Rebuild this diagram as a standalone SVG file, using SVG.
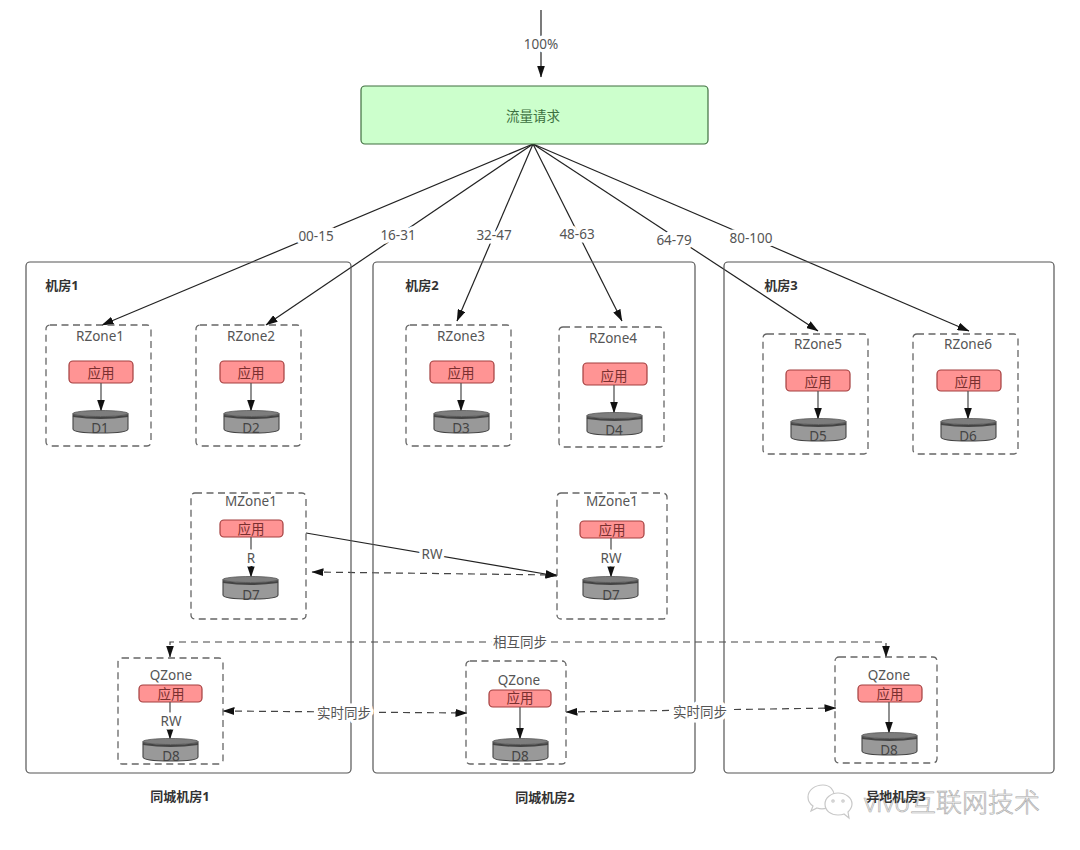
<svg xmlns="http://www.w3.org/2000/svg" xmlns:xlink="http://www.w3.org/1999/xlink" width="1080" height="850" viewBox="0 0 1080 850">
<style>
text{font-family:"Noto Sans","Noto Sans CJK SC",sans-serif;font-size:13.500px;fill:#555;text-anchor:middle}
.lbl{paint-order:stroke;stroke:#fff;stroke-width:7px;stroke-linejoin:round;fill:#555}
.room{fill:none;stroke:#555;stroke-width:1.2}
.rt{font-weight:bold;font-size:13px;fill:#333}
.zone{fill:none;stroke:#666;stroke-width:1.3;stroke-dasharray:7 4.500}
.app{fill:#ff9494;stroke:#a33f3f;stroke-width:1.2}
.apt{fill:#7a3030}
.db{fill:#999;stroke:#444;stroke-width:1.100}
.dbt{fill:#7d7d7d;stroke:#555;stroke-width:.8}
.dbb{fill:none;stroke:#444;stroke-width:2}
.con{fill:none;stroke:#222;stroke-width:1.200}
.dash{fill:none;stroke:#444;stroke-width:1.200;stroke-dasharray:7 5}
.in{fill:none;stroke:#555;stroke-width:1.300}
.dbl{fill:#444}
.wm{fill:#fff;stroke:#c8c8c8;stroke-width:1.200}
.wmt{font-size:26px;font-weight:300;fill:#f4f4f4;stroke:#a8a8a8;stroke-width:.6px}
</style>
<defs>
<marker id="a" viewBox="0 0 12 8" refX="11.500" refY="4" markerWidth="12" markerHeight="8" markerUnits="userSpaceOnUse" orient="auto-start-reverse"><path d="M0 0L12 4L0 8Z" fill="#111"/></marker>
<g id="db"><path class="db" d="M0 4V19Q0 23 27.500 23T55 19V4Z"/><ellipse class="dbt" cx="27.500" cy="3.500" rx="27.500" ry="3"/><path class="dbb" d="M0 6Q27.500 10 55 6"/></g>
</defs>
<g id="watermark">
<path class="wm" d="M823 785C815 785 808 790 808 797C808 801 810 804 813 806L811 811L817 808C820 809 824 809 827 808C837 806 838 785 823 785Z"/>
<path class="wm" d="M838 793C831 793 825 798 825 804C825 811 831 815 838 815C840 815 842 815 844 814L849 818L848 812C850 810 852 807 852 804C852 798 846 793 838 793Z"/>
<circle class="wm" cx="833" cy="801" r="1.200"/><circle class="wm" cx="843" cy="801" r="1.200"/>
<text class="wmt" x="952" y="812">vivo互联网技术</text>
</g>
<g id="connectors">
<path class="con" d="M541 10V77" marker-end="url(#a)"/>
<path class="con" d="M533 144L102 325" marker-end="url(#a)"/>
<path class="con" d="M533 144L266 325" marker-end="url(#a)"/>
<path class="con" d="M533 144L457 321" marker-end="url(#a)"/>
<path class="con" d="M533 144L622 321" marker-end="url(#a)"/>
<path class="con" d="M533 144L818 331" marker-end="url(#a)"/>
<path class="con" d="M533 144L969 331" marker-end="url(#a)"/>
<path class="con" d="M306 533L557 576" marker-end="url(#a)"/>
<path class="dash" d="M312 572L557 575" marker-start="url(#a)" marker-end="url(#a)"/>
<path class="dash" d="M170 657V642H886V657" marker-start="url(#a)" marker-end="url(#a)"/>
<path class="dash" d="M223 711L467 713" marker-start="url(#a)" marker-end="url(#a)"/>
<path class="dash" d="M566 712L836 708" marker-start="url(#a)" marker-end="url(#a)"/>
</g>
<g id="room1"><rect class="room" x="26" y="262" width="325" height="511" rx="4"/><text class="rt" x="62" y="290">机房1</text></g>
<g id="room2"><rect class="room" x="373" y="262" width="322" height="511" rx="4"/><text class="rt" x="422" y="290">机房2</text></g>
<g id="room3"><rect class="room" x="724" y="262" width="330" height="511" rx="4"/><text class="rt" x="781" y="290">机房3</text></g>
<g id="traffic"><rect x="361" y="86" width="347" height="58" rx="4" fill="#ccffcc" stroke="#3f6f3f" stroke-width="1.2"/><text x="533" y="121" style="fill:#3c7040">流量请求</text></g>
<g id="rzone1"><rect class="zone" x="46" y="325" width="105" height="121" rx="4"/><text x="100" y="341">RZone1</text><rect class="app" x="69" y="361" width="64" height="22" rx="4"/><text class="apt" x="101" y="378">应用</text><path class="in" d="M101 383V411" marker-end="url(#a)"/><use xlink:href="#db" x="73" y="410"/><text class="dbl" x="100" y="433">D1</text></g>
<g id="rzone2"><rect class="zone" x="196" y="325" width="105" height="121" rx="4"/><text x="251" y="341">RZone2</text><rect class="app" x="220" y="361" width="64" height="22" rx="4"/><text class="apt" x="251" y="378">应用</text><path class="in" d="M251 383V411" marker-end="url(#a)"/><use xlink:href="#db" x="224" y="410"/><text class="dbl" x="251" y="433">D2</text></g>
<g id="rzone3"><rect class="zone" x="406" y="325" width="105" height="121" rx="4"/><text x="461" y="341">RZone3</text><rect class="app" x="430" y="361" width="64" height="22" rx="4"/><text class="apt" x="461" y="378">应用</text><path class="in" d="M461 383V411" marker-end="url(#a)"/><use xlink:href="#db" x="434" y="410"/><text class="dbl" x="461" y="433">D3</text></g>
<g id="rzone4"><rect class="zone" x="559" y="327" width="105" height="120" rx="4"/><text x="613" y="343">RZone4</text><rect class="app" x="583" y="363" width="64" height="22" rx="4"/><text class="apt" x="614" y="381">应用</text><path class="in" d="M614 385V413" marker-end="url(#a)"/><use xlink:href="#db" x="587" y="412"/><text class="dbl" x="614" y="435">D4</text></g>
<g id="rzone5"><rect class="zone" x="763" y="334" width="105" height="120" rx="4"/><text x="818" y="349">RZone5</text><rect class="app" x="786" y="370" width="64" height="21" rx="4"/><text class="apt" x="818" y="387">应用</text><path class="in" d="M818 391V419" marker-end="url(#a)"/><use xlink:href="#db" x="791" y="418"/><text class="dbl" x="818" y="441">D5</text></g>
<g id="rzone6"><rect class="zone" x="913" y="334" width="105" height="120" rx="4"/><text x="968" y="349">RZone6</text><rect class="app" x="937" y="370" width="64" height="21" rx="4"/><text class="apt" x="968" y="387">应用</text><path class="in" d="M968 391V419" marker-end="url(#a)"/><use xlink:href="#db" x="941" y="418"/><text class="dbl" x="968" y="441">D6</text></g>
<g id="mzone1a"><rect class="zone" x="191" y="493" width="115" height="126" rx="4"/><text x="251" y="506">MZone1</text><rect class="app" x="220" y="520" width="63" height="17" rx="4"/><text class="apt" x="251" y="534">应用</text><path class="in" d="M251 537V577" marker-end="url(#a)"/><use xlink:href="#db" x="223" y="576"/><text class="dbl" x="251" y="600">D7</text><text class="lbl" x="251" y="563">R</text></g>
<g id="mzone1b"><rect class="zone" x="557" y="493" width="110" height="126" rx="4"/><text x="612" y="506">MZone1</text><rect class="app" x="580" y="521" width="64" height="17" rx="4"/><text class="apt" x="612" y="535">应用</text><path class="in" d="M611 538V577" marker-end="url(#a)"/><use xlink:href="#db" x="583" y="576"/><text class="dbl" x="611" y="600">D7</text><text class="lbl" x="611" y="563">RW</text></g>
<g id="qzone1"><rect class="zone" x="118" y="658" width="105" height="106" rx="4"/><text x="171" y="680">QZone</text><rect class="app" x="139" y="685" width="63" height="17" rx="4"/><text class="apt" x="171" y="699">应用</text><path class="in" d="M170 702V739" marker-end="url(#a)"/><use xlink:href="#db" x="143" y="738"/><text class="dbl" x="171" y="761">D8</text><text class="lbl" x="171" y="726">RW</text></g>
<g id="qzone2"><rect class="zone" x="466" y="661" width="100" height="103" rx="4"/><text x="519" y="685">QZone</text><rect class="app" x="489" y="690" width="62" height="17" rx="4"/><text class="apt" x="520" y="703">应用</text><path class="in" d="M520 707V739" marker-end="url(#a)"/><use xlink:href="#db" x="493" y="738"/><text class="dbl" x="520" y="761">D8</text></g>
<g id="qzone3"><rect class="zone" x="835" y="657" width="102" height="106" rx="4"/><text x="889" y="680">QZone</text><rect class="app" x="858" y="685" width="64" height="17" rx="4"/><text class="apt" x="890" y="699">应用</text><path class="in" d="M889 702V733" marker-end="url(#a)"/><use xlink:href="#db" x="862" y="732"/><text class="dbl" x="889" y="755">D8</text></g>
<g id="labels">
<text class="lbl" x="541" y="49">100%</text>
<text class="lbl" x="316" y="241">00-15</text>
<text class="lbl" x="398" y="240">16-31</text>
<text class="lbl" x="494" y="240">32-47</text>
<text class="lbl" x="577" y="239">48-63</text>
<text class="lbl" x="674" y="245">64-79</text>
<text class="lbl" x="751" y="243">80-100</text>
<text class="lbl" x="432" y="559">RW</text>
<text class="lbl" x="520" y="647">相互同步</text>
<text class="lbl" x="344" y="718">实时同步</text>
<text class="lbl" x="700" y="717">实时同步</text>
<text class="rt" x="180" y="801">同城机房1</text>
<text class="rt" x="545" y="802">同城机房2</text>
<text class="rt" x="896" y="801">异地机房3</text>
</g>
</svg>
